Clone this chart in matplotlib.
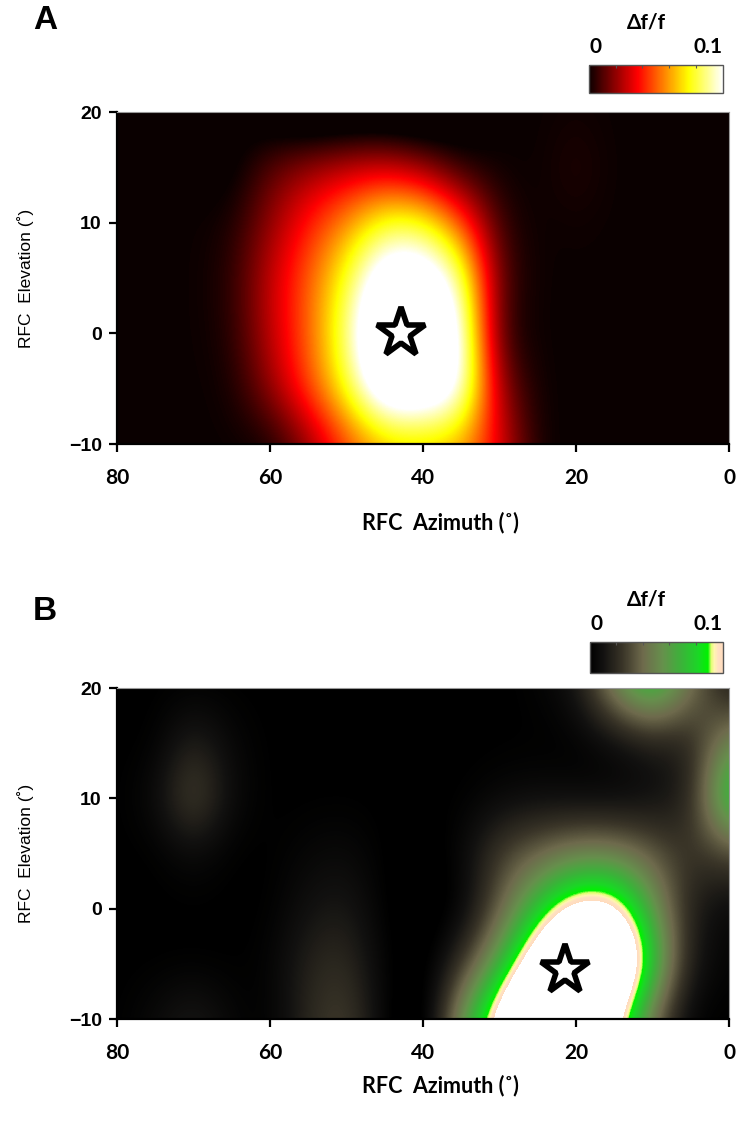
import numpy as np
import matplotlib
matplotlib.use("Agg")
import matplotlib.pyplot as plt
from matplotlib.colors import LinearSegmentedColormap

# stimulus grid (deg), columns = azimuth, rows = elevation
azimuth = [80, 75, 70, 65, 60, 55, 50, 45, 40, 35, 30, 25, 20, 15, 10, 5, 0]
elevation = [20, 15, 10, 5, 0, -5, -10]

# mean df/f per position, panel A
dff_a = [
    [0, 0, 0, 0, -0.010, -0.020, -0.020, -0.020, -0.020, -0.010, 0, 0, 0.001, 0, 0, 0, 0],
    [0, 0, 0, -0.005, 0.012, 0.022, 0.028, 0.030, 0.020, 0.002, 0, 0, 0.004, 0, 0, 0, 0],
    [0, 0, 0, 0.002, 0.020, 0.040, 0.058, 0.080, 0.080, 0.050, 0.005, 0, 0.001, 0, 0, 0, 0],
    [0, 0, 0, 0.004, 0.028, 0.050, 0.078, 0.120, 0.120, 0.092, 0.010, 0, 0, 0, 0, 0, 0],
    [0, 0, 0, 0.003, 0.027, 0.050, 0.087, 0.140, 0.140, 0.107, 0.005, 0, 0, 0, 0, 0, 0],
    [0, 0, 0, 0.001, 0.020, 0.047, 0.078, 0.125, 0.125, 0.108, 0.020, 0, 0, 0, 0, 0, 0],
    [0, 0, 0, 0, 0, 0.018, 0.045, 0.062, 0.064, 0.060, 0.033, 0, 0, 0, 0, 0, 0],
]

# mean df/f per position, panel B
dff_b = [
    [0, 0, 0, 0, 0, 0, 0, 0, 0, 0, 0, 0.002, 0.010, 0.055, 0.086, 0.045, 0.010],
    [0, 0, 0.018, 0.004, 0, 0, 0, 0, 0, 0, 0, 0, 0, 0.004, 0.012, 0.014, 0.055],
    [0, 0.006, 0.036, 0.006, 0, 0, 0, 0, 0, 0, 0.004, 0.006, 0.004, 0.003, 0.006, 0.016, 0.090],
    [0, 0, 0.006, 0, 0, 0.004, 0.006, 0, -0.004, 0.004, 0.028, 0.038, 0.048, 0.048, 0.036, 0.022, 0.030],
    [0, 0, 0, 0, 0, 0.010, 0.014, 0, -0.006, 0.000, 0.035, 0.075, 0.110, 0.110, 0.060, 0.014, 0.004],
    [0, 0, 0, 0, 0.002, 0.018, 0.022, 0.002, -0.006, 0.022, 0.065, 0.125, 0.180, 0.160, 0.082, 0.012, 0.002],
    [0, 0.006, 0.016, 0.004, 0, 0.020, 0.030, 0.002, -0.012, 0.060, 0.115, 0.180, 0.180, 0.108, 0.038, 0.000, 0],
]

# receptive field centre (azimuth, elevation)
star_a = (42.9, 0.0)
star_b = (21.4, -5.6)

vmax = 0.1

cmap_a = plt.get_cmap("hot").copy()
cmap_a.set_over("white")

cmap_b = LinearSegmentedColormap.from_list("olive_green", [
    (0.00, "#000000"),
    (0.10, "#121110"),
    (0.25, "#3a3528"),
    (0.40, "#6e6a4c"),
    (0.55, "#66904c"),
    (0.70, "#38b538"),
    (0.82, "#1ad825"),
    (0.89, "#00f200"),
    (0.915, "#e0ff70"),
    (0.94, "#fff6b0"),
    (0.965, "#ffe0c2"),
    (1.00, "#ffdcbe"),
])
cmap_b.set_over("white")

fig = plt.figure(figsize=(7.36, 11.29), dpi=100)

panels = [
    # data, cmap, star, axes rect, colorbar rect, letter y, xlabel pad
    (dff_a, cmap_a, star_a, [0.159, 0.6067, 0.8315, 0.294], [0.800, 0.918, 0.182, 0.0245], 0.982, 17),
    (dff_b, cmap_b, star_b, [0.159, 0.0974, 0.8315, 0.2932], [0.801, 0.404, 0.181, 0.0275], 0.458, 9),
]

dx = (azimuth[0] - azimuth[1]) / 2
dy = (elevation[0] - elevation[1]) / 2
font_x = ["Lato", "DejaVu Sans"]

for letter, (data, cmap, star, rect, crect, ly, xpad) in zip("AB", panels):
    ax = fig.add_axes(rect)
    im = ax.imshow(np.array(data), cmap=cmap, vmin=0, vmax=vmax,
                   extent=[azimuth[0] + dx, azimuth[-1] - dx, elevation[-1] - dy, elevation[0] + dy],
                   origin="upper", aspect="auto",
                   interpolation="bicubic", interpolation_stage="data")
    ax.set_xlim(80, 0)
    ax.set_ylim(-10, 20)
    ax.set_xticks([80, 60, 40, 20, 0])
    ax.set_yticks([-10, 0, 10, 20])

    ax.plot(star[0], star[1], marker="*", markersize=37, markerfacecolor="white",
            markeredgecolor="black", markeredgewidth=4, linestyle="none")

    for side in ["left", "bottom"]:
        ax.spines[side].set_linewidth(1.6)
        ax.spines[side].set_color("black")
    for side in ["top", "right"]:
        ax.spines[side].set_linewidth(0.8)
        ax.spines[side].set_color("#999999")

    ax.tick_params(axis="both", direction="out", length=6, width=1.6,
                   top=False, right=False)
    ax.tick_params(axis="y", pad=5)
    ax.tick_params(axis="x", pad=11)
    for t in ax.get_yticklabels():
        t.set_fontfamily("Liberation Sans")
        t.set_fontweight("bold")
        t.set_fontsize(14)
    for t in ax.get_xticklabels():
        t.set_fontfamily(font_x)
        t.set_fontweight("bold")
        t.set_fontsize(15)

    ax.set_xlabel("RFC  Azimuth (˚)", family=font_x,
                  fontweight="bold", fontsize=15.5, labelpad=xpad)
    ax.xaxis.label.set_x(0.529)
    ax.set_ylabel("RFC  Elevation (˚)", family=["Liberation Sans", "DejaVu Sans"],
                  fontsize=12.5)
    ax.yaxis.set_label_coords(-0.135, 0.5)

    fig.text(0.061, ly, letter, family="Liberation Sans", fontweight="bold",
             fontsize=24, ha="center", va="center")

    # colour scale
    cax = fig.add_axes(crect)
    cb = fig.colorbar(im, cax=cax, orientation="horizontal")
    cb.set_ticks([0.02, 0.04, 0.06, 0.08])
    cb.ax.xaxis.set_ticks_position("top")
    cb.ax.tick_params(axis="x", direction="in", length=2, width=0.8,
                      colors="#555555", labeltop=False, labelbottom=False)
    cb.outline.set_edgecolor("#555555")
    cb.outline.set_linewidth(1.0)

    cx0, cy0, cw, ch = crect
    top = cy0 + ch
    fig.text(cx0 + 0.001, top + 0.0155, "0", family=font_x,
             fontweight="bold", fontsize=15, ha="left", va="center")
    fig.text(cx0 + cw, top + 0.0155, "0.1", family=font_x,
             fontweight="bold", fontsize=15, ha="right", va="center")
    fig.text(cx0 + 0.43 * cw, top + 0.0375, "Δf/f", family=font_x,
             fontweight="bold", fontsize=15, ha="center", va="center")

fig.savefig("out.png", dpi=100)
